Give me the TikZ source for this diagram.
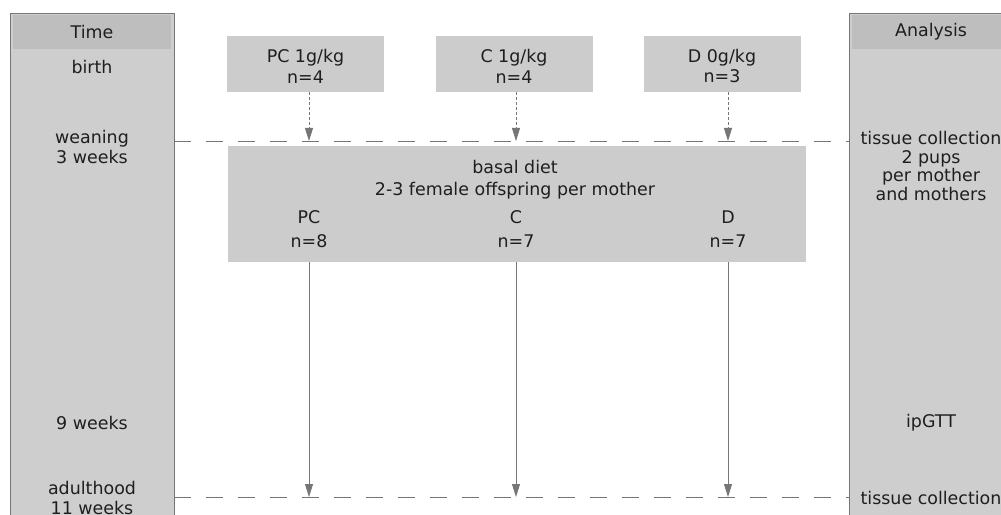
\documentclass[tikz,border=0pt]{standalone}
\usepackage{fontspec}
\setmainfont{DejaVu Sans}
\usepackage{tikz}
\usetikzlibrary{arrows.meta}
\usetikzlibrary{positioning}

\definecolor{colfill}{RGB}{206,206,206}
\definecolor{headfill}{RGB}{190,190,190}
\definecolor{boxfill}{RGB}{204,204,204}
\definecolor{linegray}{RGB}{118,118,118}
\definecolor{txt}{RGB}{30,30,30}

\tikzset{
    lbl/.style={text=txt, font=\fontsize{17.5}{20}\selectfont, align=center, inner sep=0pt},
    colbox/.style={draw=linegray, fill=colfill, line width=.8bp, anchor=north west,
        minimum width=164bp, minimum height=520bp, inner sep=0pt},
    headbox/.style={fill=headfill, anchor=north west, minimum width=158bp,
        minimum height=34bp, inner sep=0pt},
    grpbox/.style={fill=boxfill, minimum width=157bp, minimum height=56bp, inner sep=0pt},
    flow/.style={draw=linegray, line width=.8bp, -{Triangle[length=13bp,width=8bp]}},
    feed/.style={flow, dash pattern=on 3bp off 2bp},
    stage/.style={draw=linegray, line width=.8bp, dash pattern=on 17bp off 15bp},
}

\begin{document}
\begin{tikzpicture}[x=1bp, y=-1bp]
        \useasboundingbox (0,0) rectangle (1001,515);
        \clip (0,0) rectangle (1001,515);

        % side columns
        \node[colbox] (timecol) at (10,13) {};
        \node[headbox] (timehead) at (13,15) {};
        \node[lbl] (timett) at (92,32) {Time};
        \node[colbox] (anacol) at (849,13) {};
        \node[headbox] (anahead) at (852,15) {};
        \node[lbl] (anatt) at (931,32) {Analysis};

        % time points
        \node[lbl] (birth) at (92,67) {birth};
        \node[lbl] (wean) at (92,147) {weaning\\3 weeks};
        \node[lbl] (nine) at (92,423) {9 weeks};
        \node[lbl, font=\fontsize{17.5}{21}\selectfont] (adult) at (92,498) {adulthood\\11 weeks};

        % analyses
        \node[lbl, font=\fontsize{17.5}{18.5}\selectfont] (tissue1) at (931,166) {tissue collection\\2 pups\\per mother\\and mothers};
        \node[lbl] (gtt) at (931,423) {ipGTT};
        \node[lbl] (tissue2) at (931,498) {tissue collection};

        % stage lines
        \coordinate (weanL) at (174,141);
        \coordinate (weanR) at (849,141);
        \coordinate (adultL) at (174,497);
        \coordinate (adultR) at (849,497);
        \draw[stage] (weanL) -- (weanR);
        \draw[stage] (adultL) -- (adultR);

        % offspring box
        \node[grpbox, minimum width=578bp, minimum height=116bp] (diet) at (517,204) {};
        \node[lbl, font=\fontsize{17.5}{22}\selectfont] (dietlbl) at (515,180) {basal diet\\2-3 female offspring per mother};

        \foreach \g/\bx/\x/\dose/\nm/\nk in {PC/305.5/309/1g/4/8, C/514/516/1g/4/7, D/722/728/0g/3/7} {
            \node[grpbox] (mum\g) at (\bx,64) {};
            \node[lbl, font=\fontsize{17.5}{21}\selectfont] (mumlbl\g) at (\bx,66) {\g\ \dose/kg\\n=\nm};
            \node[lbl, font=\fontsize{17.5}{24}\selectfont] (pup\g) at (\x,229) {\g\\n=\nk};
            \draw[feed] (mum\g.south -| pup\g) -- (pup\g |- weanL);
            \draw[flow] (pup\g |- diet.south) -- (pup\g |- adultL);
        }
    \end{tikzpicture}
\end{document}
